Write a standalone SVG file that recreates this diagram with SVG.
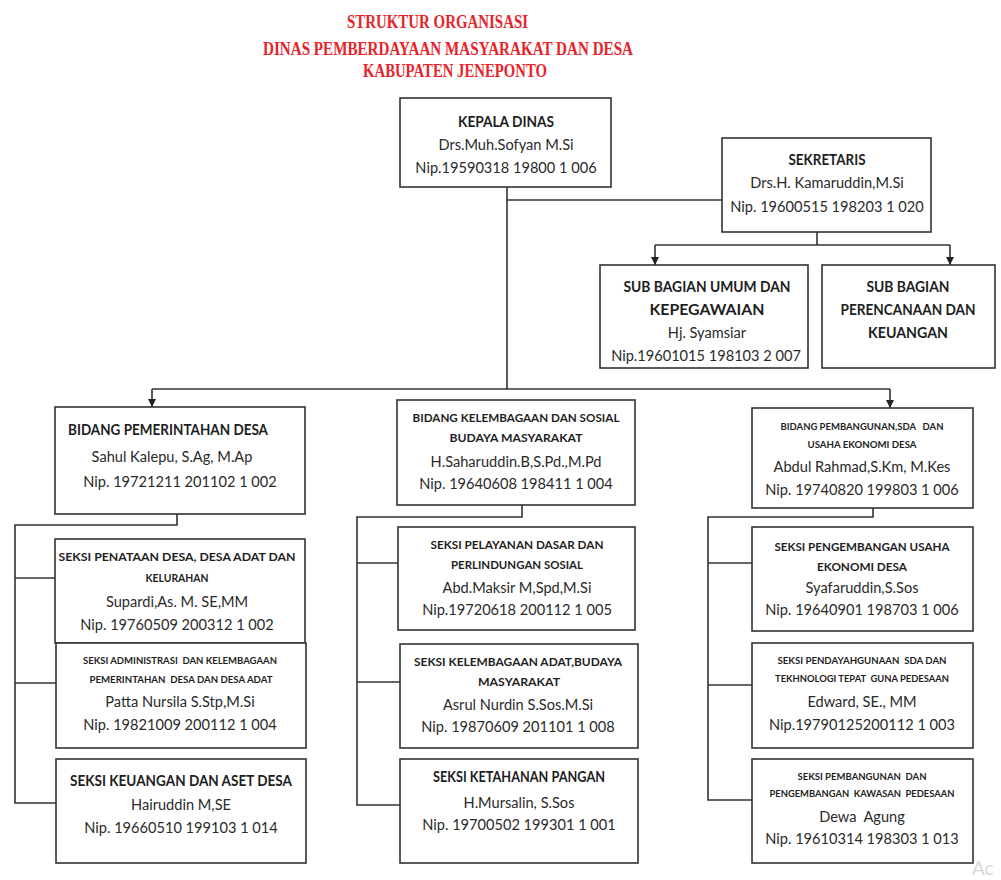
<svg xmlns="http://www.w3.org/2000/svg" width="1001" height="880" viewBox="0 0 1001 880">
<defs>
<style>
.box{fill:#fff;stroke:#333;stroke-width:1.6}
.ln{fill:none;stroke:#333;stroke-width:1.6}
.title{font-family:"Liberation Serif",serif;font-weight:bold;font-size:18px;fill:#e8232a}
.h{font-family:Lato,"Noto Sans",sans-serif;font-weight:bold;fill:#1e1e1e;text-anchor:middle;white-space:pre}
.t{font-family:Lato,"Noto Sans",sans-serif;font-size:14.6px;fill:#2a2a2a;text-anchor:middle;white-space:pre}
.L{font-size:14.5px}.M{font-size:12px}.S{font-size:10px}
</style>
<marker id="arr" markerUnits="userSpaceOnUse" markerWidth="8" markerHeight="9" refX="8" refY="4" orient="auto">
<path d="M0,0 L8,4 L0,8 z" fill="#222"/>
</marker>
</defs>
<rect width="1001" height="880" fill="#fff"/>
<g id="title">
<text class="title" x="347" y="28" textLength="181" lengthAdjust="spacingAndGlyphs">STRUKTUR ORGANISASI</text>
<text class="title" x="263" y="55" textLength="370" lengthAdjust="spacingAndGlyphs">DINAS PEMBERDAYAAN MASYARAKAT DAN DESA</text>
<text class="title" x="363" y="77" textLength="184" lengthAdjust="spacingAndGlyphs">KABUPATEN JENEPONTO</text>
</g>
<g id="connectors">
<path class="ln" d="M507 187 V389"/>
<path class="ln" d="M507 200 H722"/>
<path class="ln" d="M152 389 H890"/>
<path class="ln" d="M152 389 V407" marker-end="url(#arr)"/>
<path class="ln" d="M890 389 V408" marker-end="url(#arr)"/>
<path class="ln" d="M817 232 V245"/>
<path class="ln" d="M655 245 H950"/>
<path class="ln" d="M655 245 V265" marker-end="url(#arr)"/>
<path class="ln" d="M950 245 V265" marker-end="url(#arr)"/>
<path class="ln" d="M177 514 V525 H15 V803 H56"/>
<path class="ln" d="M15 578 H55"/>
<path class="ln" d="M15 683 H56"/>
<path class="ln" d="M522 505 V517 H357 V805 H400"/>
<path class="ln" d="M357 563 H398"/>
<path class="ln" d="M357 682 H400"/>
<path class="ln" d="M873 508 V517 H708 V800 H752"/>
<path class="ln" d="M708 563 H752"/>
<path class="ln" d="M708 685 H752"/>
</g>
<g id="kepala-dinas">
<rect class="box" x="400" y="98" width="211" height="89"/>
<text class="h L" x="506" y="127" textLength="96" lengthAdjust="spacingAndGlyphs">KEPALA DINAS</text>
<text class="t" x="506" y="150">Drs.Muh.Sofyan M.Si</text>
<text class="t" x="506" y="173">Nip.19590318 19800 1 006</text>
</g>
<g id="sekretaris">
<rect class="box" x="722" y="138" width="209" height="94"/>
<text class="h L" x="827" y="165" textLength="77" lengthAdjust="spacingAndGlyphs">SEKRETARIS</text>
<text class="t" x="827" y="188">Drs.H. Kamaruddin,M.Si</text>
<text class="t" x="827" y="212">Nip. 19600515 198203 1 020</text>
</g>
<g id="sub-umum">
<rect class="box" x="600" y="265" width="208" height="103"/>
<text class="h L" x="707" y="292" textLength="167" lengthAdjust="spacingAndGlyphs">SUB BAGIAN UMUM DAN</text>
<text class="h L" x="707" y="315" textLength="115" lengthAdjust="spacingAndGlyphs">KEPEGAWAIAN</text>
<text class="t" x="707" y="338">Hj. Syamsiar</text>
<text class="t" x="706" y="361">Nip.19601015 198103 2 007</text>
</g>
<g id="sub-perencanaan">
<rect class="box" x="822" y="265" width="173" height="103"/>
<text class="h L" x="908" y="292" textLength="83" lengthAdjust="spacingAndGlyphs">SUB BAGIAN</text>
<text class="h L" x="908" y="315" textLength="135" lengthAdjust="spacingAndGlyphs">PERENCANAAN DAN</text>
<text class="h L" x="908" y="338" textLength="80" lengthAdjust="spacingAndGlyphs">KEUANGAN</text>
</g>
<g id="bidang-pemerintahan">
<rect class="box" x="55" y="407" width="250" height="107"/>
<text class="h L" x="68" y="435" style="text-anchor:start" textLength="200" lengthAdjust="spacingAndGlyphs">BIDANG PEMERINTAHAN DESA</text>
<text class="t" x="172" y="462">Sahul Kalepu, S.Ag, M.Ap</text>
<text class="t" x="180" y="487">Nip. 19721211 201102 1 002</text>
</g>
<g id="bidang-kelembagaan">
<rect class="box" x="397" y="400" width="238" height="105"/>
<text class="h M" x="516" y="422" textLength="207" lengthAdjust="spacingAndGlyphs">BIDANG KELEMBAGAAN DAN SOSIAL</text>
<text class="h M" x="516" y="442" textLength="133" lengthAdjust="spacingAndGlyphs">BUDAYA MASYARAKAT</text>
<text class="t" x="516" y="467">H.Saharuddin.B,S.Pd.,M.Pd</text>
<text class="t" x="516" y="489">Nip. 19640608 198411 1 004</text>
</g>
<g id="bidang-pembangunan">
<rect class="box" x="752" y="408" width="221" height="100"/>
<text class="h S" x="862" y="430" textLength="163" lengthAdjust="spacingAndGlyphs">BIDANG PEMBANGUNAN,SDA   DAN</text>
<text class="h S" x="862" y="448" textLength="109" lengthAdjust="spacingAndGlyphs">USAHA EKONOMI DESA</text>
<text class="t" x="862" y="472">Abdul Rahmad,S.Km, M.Kes</text>
<text class="t" x="862" y="495">Nip. 19740820 199803 1 006</text>
</g>
<g id="seksi-penataan">
<rect class="box" x="55" y="539" width="250" height="104"/>
<text class="h M" x="177" y="561" textLength="237" lengthAdjust="spacingAndGlyphs">SEKSI PENATAAN DESA, DESA ADAT DAN</text>
<text class="h M" x="177" y="582" textLength="63" lengthAdjust="spacingAndGlyphs">KELURAHAN</text>
<text class="t" x="177" y="607">Supardi,As. M. SE,MM</text>
<text class="t" x="177" y="630">Nip. 19760509 200312 1 002</text>
</g>
<g id="seksi-administrasi">
<rect class="box" x="56" y="643" width="250" height="105"/>
<text class="h S" x="180" y="664" textLength="194" lengthAdjust="spacingAndGlyphs">SEKSI ADMINISTRASI  DAN KELEMBAGAAN</text>
<text class="h S" x="181" y="683" textLength="183" lengthAdjust="spacingAndGlyphs">PEMERINTAHAN  DESA DAN DESA ADAT</text>
<text class="t" x="180" y="707">Patta Nursila S.Stp,M.Si</text>
<text class="t" x="180" y="730">Nip. 19821009 200112 1 004</text>
</g>
<g id="seksi-keuangan">
<rect class="box" x="56" y="759" width="250" height="104"/>
<text class="h L" x="181" y="786" textLength="222" lengthAdjust="spacingAndGlyphs">SEKSI KEUANGAN DAN ASET DESA</text>
<text class="t" x="181" y="810">Hairuddin M,SE</text>
<text class="t" x="181" y="833">Nip. 19660510 199103 1 014</text>
</g>
<g id="seksi-pelayanan">
<rect class="box" x="398" y="527" width="237" height="103"/>
<text class="h M" x="517" y="549" textLength="173" lengthAdjust="spacingAndGlyphs">SEKSI PELAYANAN DASAR DAN</text>
<text class="h M" x="517" y="569" textLength="132" lengthAdjust="spacingAndGlyphs">PERLINDUNGAN SOSIAL</text>
<text class="t" x="517" y="593">Abd.Maksir M,Spd,M.Si</text>
<text class="t" x="517" y="615">Nip.19720618 200112 1 005</text>
</g>
<g id="seksi-kelembagaan-adat">
<rect class="box" x="400" y="644" width="238" height="104"/>
<text class="h M" x="518" y="666" textLength="208" lengthAdjust="spacingAndGlyphs">SEKSI KELEMBAGAAN ADAT,BUDAYA</text>
<text class="h M" x="519" y="686" textLength="82" lengthAdjust="spacingAndGlyphs">MASYARAKAT</text>
<text class="t" x="518" y="710">Asrul Nurdin S.Sos.M.Si</text>
<text class="t" x="518" y="732">Nip. 19870609 201101 1 008</text>
</g>
<g id="seksi-ketahanan">
<rect class="box" x="400" y="759" width="238" height="104"/>
<text class="h L" x="519" y="782" textLength="172" lengthAdjust="spacingAndGlyphs">SEKSI KETAHANAN PANGAN</text>
<text class="t" x="519" y="808">H.Mursalin, S.Sos</text>
<text class="t" x="519" y="830">Nip. 19700502 199301 1 001</text>
</g>
<g id="seksi-pengembangan-usaha">
<rect class="box" x="752" y="527" width="221" height="104"/>
<text class="h M" x="862" y="551" textLength="175" lengthAdjust="spacingAndGlyphs">SEKSI PENGEMBANGAN USAHA</text>
<text class="h M" x="862" y="571" textLength="90" lengthAdjust="spacingAndGlyphs">EKONOMI DESA</text>
<text class="t" x="862" y="593">Syafaruddin,S.Sos</text>
<text class="t" x="862" y="615">Nip. 19640901 198703 1 006</text>
</g>
<g id="seksi-pendayagunaan">
<rect class="box" x="752" y="643" width="221" height="105"/>
<text class="h S" x="862" y="664" textLength="169" lengthAdjust="spacingAndGlyphs">SEKSI PENDAYAHGUNAAN  SDA DAN</text>
<text class="h S" x="862" y="682" textLength="174" lengthAdjust="spacingAndGlyphs">TEKHNOLOGI TEPAT  GUNA PEDESAAN</text>
<text class="t" x="862" y="707">Edward, SE., MM</text>
<text class="t" x="862" y="730">Nip.19790125200112 1 003</text>
</g>
<g id="seksi-kawasan">
<rect class="box" x="752" y="759" width="221" height="104"/>
<text class="h S" x="862" y="780" textLength="129" lengthAdjust="spacingAndGlyphs">SEKSI PEMBANGUNAN  DAN</text>
<text class="h S" x="862" y="797" textLength="185" lengthAdjust="spacingAndGlyphs">PENGEMBANGAN  KAWASAN  PEDESAAN</text>
<text class="t" x="862" y="822">Dewa  Agung</text>
<text class="t" x="862" y="844">Nip. 19610314 198303 1 013</text>
</g>
<text x="972" y="875" style="font-family:Lato,sans-serif;font-size:19px;fill:#d8d8d8">Ac</text>
</svg>
